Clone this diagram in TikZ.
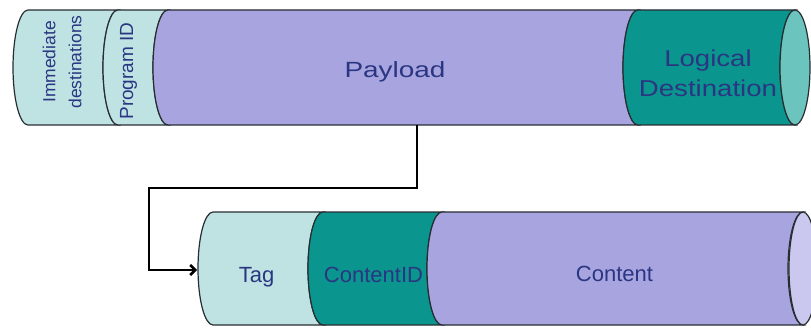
\documentclass[tikz,border=0pt]{standalone}
\usepackage{fontspec}
\setmainfont{Liberation Sans}
\usepackage{tikz}
\usetikzlibrary{arrows.meta,positioning}
\definecolor{paleteal}{RGB}{190,227,226}
\definecolor{periwinkle}{RGB}{167,164,224}
\definecolor{deepteal}{RGB}{10,150,142}
\definecolor{capteal}{RGB}{108,196,190}
\definecolor{lavendermist}{RGB}{203,200,240}
\definecolor{inkblue}{RGB}{42,54,130}
\definecolor{rim}{RGB}{40,45,50}

\begin{document}
\begin{tikzpicture}[x=1pt,y=1pt,
    rimline/.style={draw=rim,line width=1.2pt},
    lbl/.style={text=inkblue,inner sep=0pt}]
    \useasboundingbox (0,0) rectangle (811,327);
    % upper cylinder (message)
    \foreach \a/\b/\c in {28/118/paleteal,118/168/paleteal,168/638/periwinkle,638/795/deepteal}
        \filldraw[rimline,fill=\c] (\a,317) arc[start angle=90,end angle=270,x radius=15,y radius=57.5]
            -- (\b,202) arc[start angle=270,end angle=90,x radius=15,y radius=57.5] -- cycle;
    \filldraw[rimline,fill=capteal] (795,259.5) ellipse[x radius=15,y radius=57.5];
    % lower cylinder (payload)
    \foreach \a/\b/\c in {213/323/paleteal,323/442/deepteal,442/803/periwinkle}
        \filldraw[rimline,fill=\c] (\a,115) arc[start angle=90,end angle=270,x radius=15,y radius=56.5]
            -- (\b,2) arc[start angle=270,end angle=90,x radius=15,y radius=56.5] -- cycle;
    \filldraw[rimline,fill=lavendermist] (803,58.5) ellipse[x radius=14,y radius=56.5];
    % labels
    \node[lbl,rotate=90,align=center,font=\fontsize{17.5}{26}\selectfont] (immdest) at (62,265) {Immediate\\destinations};
    \node[lbl,rotate=90,font=\fontsize{19}{22}\selectfont] (progid) at (128.5,256) {Program ID};
    \node[lbl,anchor=base,xscale=1.27,font=\fontsize{22}{26}\selectfont] (payload) at (395,249.7) {Payload};
    \node[lbl,align=center,xscale=1.2,font=\fontsize{23}{30}\selectfont] (logdest) at (708,254) {Logical\\Destination};
    \node[lbl,anchor=base,font=\fontsize{22}{26}\selectfont] (tag) at (256.5,45) {Tag};
    \node[lbl,anchor=base,font=\fontsize{22}{26}\selectfont] (contentid) at (373.5,45) {ContentID};
    \node[lbl,anchor=base,font=\fontsize{22}{26}\selectfont] (content) at (614.5,46) {Content};
    % connector
    \coordinate (payloadfoot) at (417,202);
    \coordinate (bend) at (149,139);
    \coordinate (tagside) at (197,57);
    \draw[line width=2.5pt,-{Straight Barb[length=5pt,width=10pt]}] (payloadfoot) |- (bend) |- (tagside);
\end{tikzpicture}
\end{document}
